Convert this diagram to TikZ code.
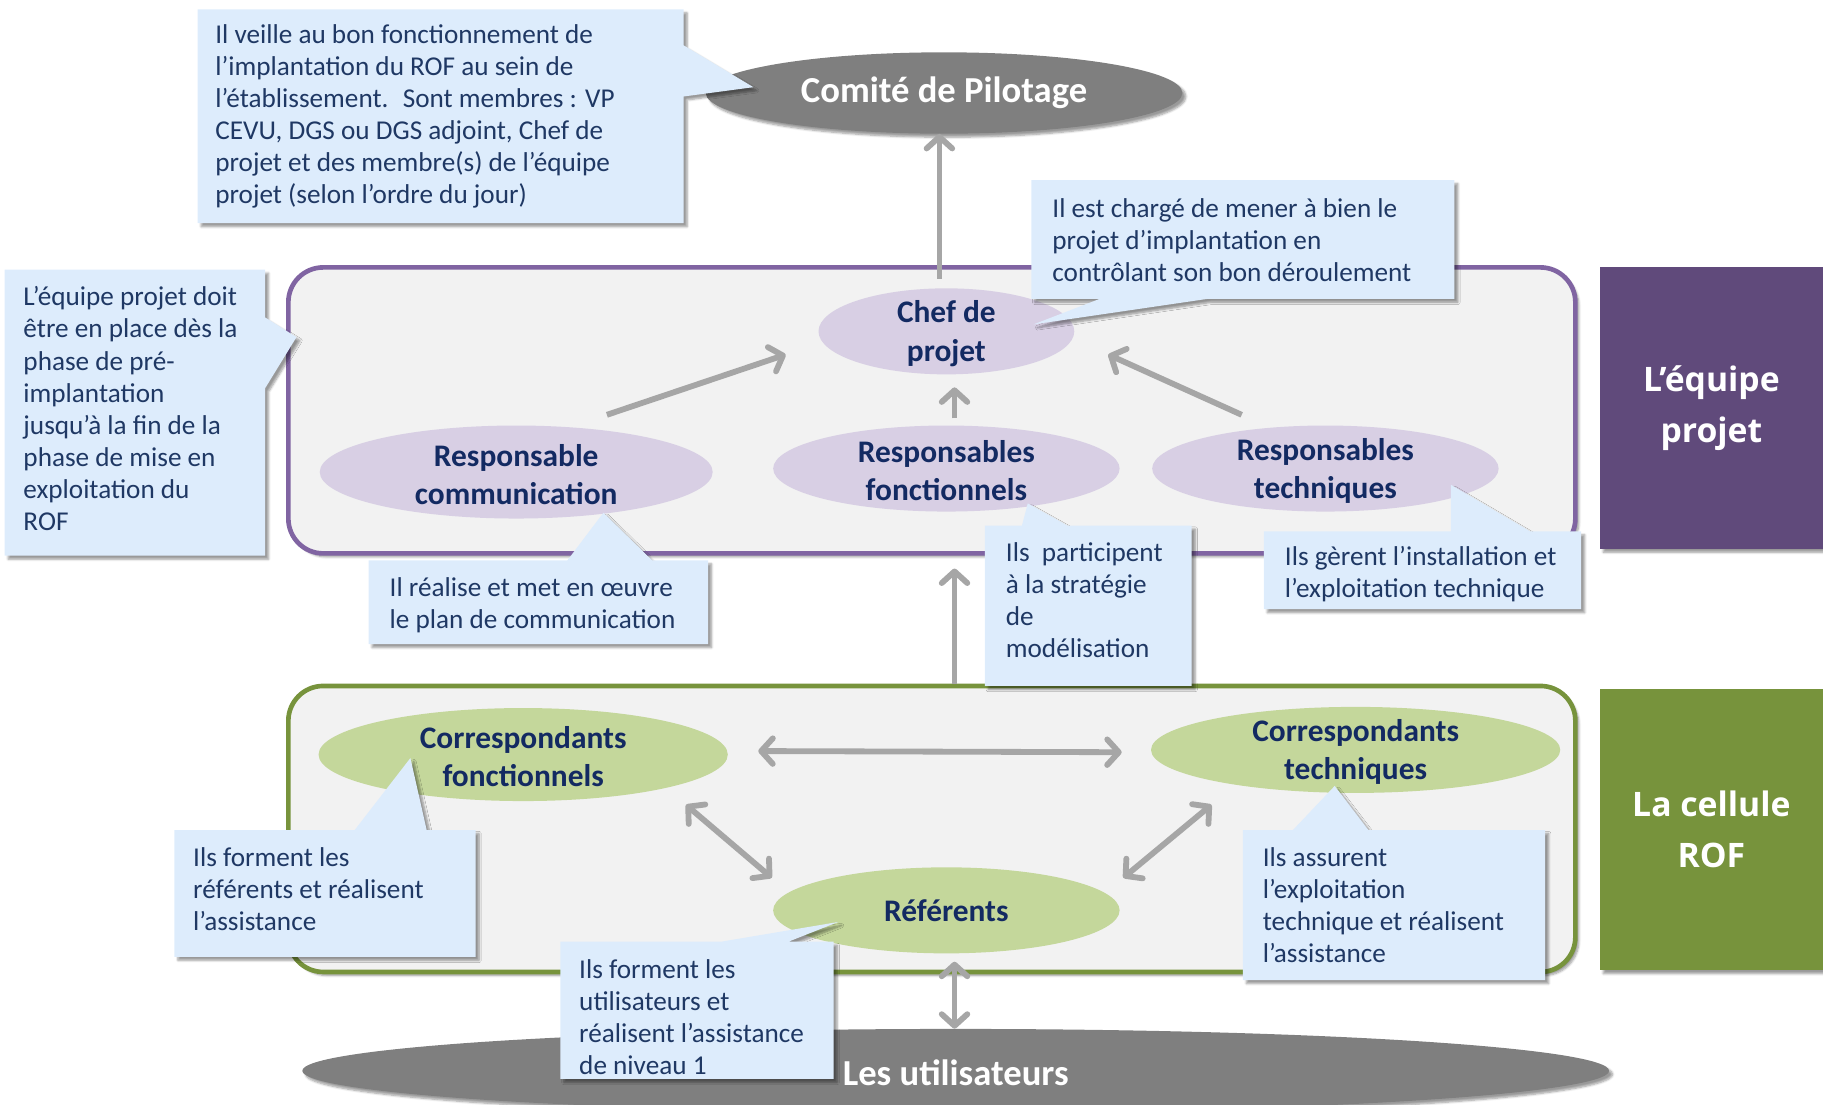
\documentclass[tikz,border=0pt]{standalone}
\usepackage{fontspec}
\setmainfont{Carlito}
\newfontfamily\blocfont{Open Sans}
\usetikzlibrary{arrows.meta, shapes.geometric, shadows.blur}

\definecolor{notefond}{HTML}{DDECFC}
\definecolor{notetxt}{HTML}{1F3864}
\definecolor{marine}{HTML}{132A62}
\definecolor{violetcadre}{HTML}{8064A2}
\definecolor{violetfond}{HTML}{D8CFE4}
\definecolor{violetbloc}{HTML}{604A7B}
\definecolor{vertcadre}{HTML}{77933C}
\definecolor{vertfond}{HTML}{C4D79B}
\definecolor{fondgris}{HTML}{F2F2F2}
\definecolor{grisfonce}{HTML}{7F7F7F}
\definecolor{flgris}{HTML}{A6A6A6}

\tikzset{
  ombre/.style={blur shadow={shadow xshift=3pt, shadow yshift=-3pt, shadow blur steps=6}},
  cadre/.style={rectangle, rounded corners=30pt, line width=4pt, fill=fondgris, ombre,
    minimum width=1107pt, minimum height=246pt},
  bulle/.style={ellipse, inner sep=0pt},
  titre/.style={font=\bfseries\fontsize{27}{33}\selectfont, text=marine, align=center, yshift=-2pt},
  gros/.style={font=\bfseries\fontsize{31.5}{36}\selectfont, text=white},
  note/.style={fill=notefond, ombre},
  notetexte/.style={anchor=west, align=left, inner sep=0pt, text=notetxt,
    font=\fontsize{23.4}{27.6}\selectfont},
  bloc/.style={rectangle, ombre, text=white, align=center, minimum width=192pt,
    minimum height=242pt, font=\blocfont\bfseries\fontsize{29}{44}\selectfont},
  fleche/.style={draw=flgris, line width=5pt, -{Straight Barb[length=10pt, width=22pt, round]}},
  dfleche/.style={fleche, {Straight Barb[length=10pt, width=22pt, round]}-{Straight Barb[length=10pt, width=22pt, round]}}
}

\begin{document}
\begin{tikzpicture}[x=1pt, y=-1pt]
  \useasboundingbox (0,0) rectangle (1568,950);

  % les deux groupes
  \node[cadre, draw=violetcadre] (equipe) at (801.5,353) {};
  \node[cadre, draw=vertcadre] (cellule) at (801.5,713) {};

  % noeuds
  \node[bulle, ombre, fill=grisfonce, minimum width=410pt, minimum height=70pt, gros] (comite) at (812,80) {Comité de Pilotage};
  \node[bulle, fill=violetfond, minimum width=220pt, minimum height=74pt,
        label={[titre]center:Chef de\\projet}] (chef) at (814,285) {};
  \node[bulle, fill=violetfond, minimum width=338pt, minimum height=80pt,
        label={[titre]center:Responsable\\communication}] (comm) at (444,406) {};
  \node[bulle, fill=violetfond, minimum width=298pt, minimum height=74pt,
        label={[titre]center:Responsables\\fonctionnels}] (fonct) at (814,403) {};
  \node[bulle, fill=violetfond, minimum width=298pt, minimum height=74pt,
        label={[titre]center:Responsables\\techniques}] (tech) at (1140,403) {};
  \node[bulle, fill=vertfond, minimum width=352pt, minimum height=80pt,
        label={[titre]center:Correspondants\\fonctionnels}] (cfonct) at (450,649) {};
  \node[bulle, fill=vertfond, minimum width=352pt, minimum height=74pt,
        label={[titre]center:Correspondants\\techniques}] (ctech) at (1166,645) {};
  \node[bulle, fill=vertfond, minimum width=298pt, minimum height=74pt, titre] (ref) at (814,781) {Référents};
  \node[bulle, ombre, fill=grisfonce, minimum width=1124pt, minimum height=72pt, gros] (users) at (822,921) {};

  % fleches
  \draw[fleche] ([xshift=-6pt,yshift=8pt]chef.north) -- ([xshift=-4pt]comite.south);
  \draw[fleche] ([xshift=78pt,yshift=9pt]comm.north) -- ([xshift=-28pt,yshift=-20pt]chef.west);
  \draw[fleche] ([xshift=7pt,yshift=6pt]fonct.north) -- ([xshift=7pt,yshift=-11pt]chef.south);
  \draw[fleche] ([xshift=-72pt,yshift=9pt]tech.north) -- ([xshift=29pt,yshift=-20pt]chef.east);
  \draw[fleche] ([xshift=19.5pt]cellule.north) -- ([xshift=19.5pt,yshift=-11pt]equipe.south);
  \draw[dfleche] ([xshift=26pt,yshift=3pt]cfonct.east) -- ([xshift=-25pt,yshift=-2pt]ctech.west);
  \draw[dfleche] ([xshift=140pt,yshift=-3pt]cfonct.south) -- ([xshift=-1pt,yshift=28pt]ref.west);
  \draw[dfleche] ([xshift=-124pt,yshift=-10pt]ctech.south) -- ([xshift=3pt,yshift=28pt]ref.east);
  \draw[dfleche] ([xshift=7pt,yshift=-7pt]ref.south) -- ([xshift=-1pt]users.north);

  % bulles de commentaire
  \fill[note] (170,8) -- (588,8) -- (588,39) -- (648,75) -- (588,83) -- (588,192) -- (170,192) -- cycle;
  \node[notetexte] (ncomite) at (185,100) {Il veille au bon fonctionnement de\\l’implantation du ROF au sein de\\l’établissement.~ Sont membres : VP\\CEVU, DGS ou DGS adjoint, Chef de\\projet et des membre(s) de l’équipe\\projet (selon l’ordre du jour)};

  \fill[note] (4,232) -- (228,232) -- (228,273) -- (255,290) -- (228,334) -- (228,478) -- (4,478) -- cycle;
  \node[notetexte] (nequipe) at (20,351.5) {L’équipe projet doit\\être en place dès la\\phase de pré-\\implantation\\jusqu’à la fin de la\\phase de mise en\\exploitation du\\ROF};

  \fill[note] (887,155) -- (1251,155) -- (1251,257) -- (1039,257) -- (889,279) -- (946,257) -- (887,257) -- cycle;
  \node[notetexte] (nchef) at (905,206.5) {Il est chargé de mener à bien le\\projet d’implantation en\\contrôlant son bon déroulement};

  \fill[note] (317,482) -- (488,482) -- (519,441) -- (561,482) -- (609,482) -- (609,554) -- (317,554) -- cycle;
  \node[notetexte] (ncomm) at (335,520.5) {Il réalise et met en œuvre\\le plan de communication};

  \fill[note] (847,452) -- (879,452) -- (884,433) -- (918,452) -- (1025,452) -- (1025,590) -- (847,590) -- cycle;
  \node[notetexte] (nfonct) at (865,516) {Ils~ participent\\à la stratégie\\de\\modélisation};

  \fill[note] (1087,457) -- (1248,457) -- (1248,417) -- (1316,457) -- (1360,457) -- (1360,524) -- (1087,524) -- cycle;
  \node[notetexte] (ntech) at (1105,494) {Ils gèrent l’installation et\\l’exploitation technique};

  \fill[note] (150,714) -- (305,714) -- (353,652) -- (367,714) -- (409,714) -- (409,823) -- (150,823) -- cycle;
  \node[notetexte] (ncfonct) at (166,765) {Ils forment les\\référents et réalisent\\l’assistance};

  \fill[note] (1069,714) -- (1112,714) -- (1148,676) -- (1177,714) -- (1329,714) -- (1329,843) -- (1069,843) -- cycle;
  \node[notetexte] (nctech) at (1086,778.5) {Ils assurent\\l’exploitation\\technique et réalisent\\l’assistance};

  \fill[note] (482,810) -- (620,810) -- (721,793) -- (678,810) -- (717,810) -- (717,928) -- (482,928) -- cycle;
  \node[notetexte] (nref) at (498,875) {Ils forment les\\utilisateurs et\\réalisent l’assistance\\de niveau 1};

  \node[gros] (tusers) at ([yshift=-2pt]users.center) {Les utilisateurs};

  % blocs de droite
  \node[bloc, fill=violetbloc] (lequipe) at (1472,351) {L’équipe\\projet};
  \node[bloc, fill=vertcadre] (lcellule) at (1472,713.5) {La cellule\\ROF};
\end{tikzpicture}
\end{document}
